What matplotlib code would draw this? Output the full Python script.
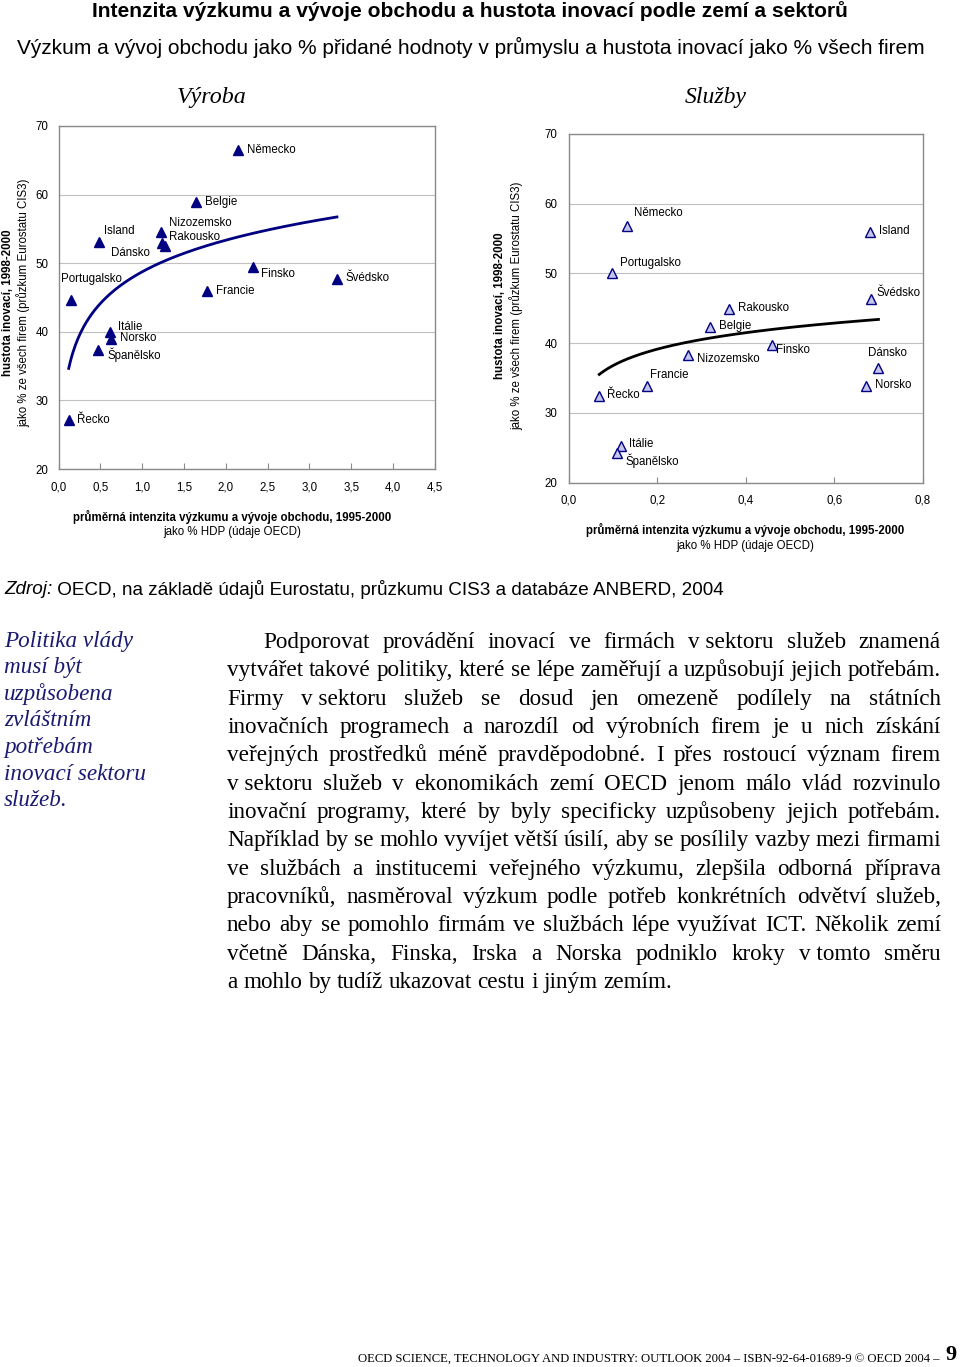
import numpy as np
import matplotlib
matplotlib.use('Agg')
import matplotlib.pyplot as plt
from matplotlib import font_manager as fm

W, H = 960, 1367

# --- Výroba (průmysl) ---
vyr_zeme = ['Německo', 'Belgie', 'Nizozemsko', 'Rakousko', 'Dánsko', 'Island', 'Portugalsko',
            'Itálie', 'Norsko', 'Španělsko', 'Řecko', 'Francie', 'Finsko', 'Švédsko']
vyr_vav = [2.15, 1.64, 1.22, 1.24, 1.27, 0.48, 0.15, 0.61, 0.63, 0.47, 0.12, 1.77, 2.32, 3.33]
vyr_inov = [66.5, 58.9, 54.5, 53.0, 52.5, 53.1, 44.6, 40.0, 38.9, 37.4, 27.2, 46.0, 49.4, 47.7]

# --- Služby ---
sluz_zeme = ['Německo', 'Portugalsko', 'Island', 'Švédsko', 'Rakousko', 'Belgie', 'Finsko',
             'Nizozemsko', 'Dánsko', 'Norsko', 'Francie', 'Řecko', 'Itálie', 'Španělsko']
sluz_vav = [0.131, 0.098, 0.681, 0.684, 0.362, 0.319, 0.460, 0.269, 0.700, 0.671, 0.176, 0.069, 0.118, 0.110]
sluz_inov = [56.8, 50.1, 56.0, 46.4, 44.9, 42.3, 39.8, 38.3, 36.4, 33.8, 33.8, 32.5, 25.2, 24.2]

# label offsets in pixels (dx, dy up, ha)
vyr_off = [(9, 0, 'left'), (9, 0, 'left'), (8, 9, 'left'), (7, 6, 'left'), (-15, -7, 'right'),
           (5, 11, 'left'), (-10, 21, 'left'), (8, 5, 'left'), (9, 1, 'left'), (10, -5, 'left'),
           (8, 0, 'left'), (9, 0, 'left'), (8, -7, 'left'), (9, 1, 'left')]
sluz_off = [(7, 13, 'left'), (8, 10, 'left'), (9, 1, 'left'), (5, 6, 'left'), (9, 1, 'left'),
            (9, 1, 'left'), (4, -5, 'left'), (9, -4, 'left'), (-10, 15, 'left'), (9, 1, 'left'),
            (3, 11, 'left'), (8, 1, 'left'), (8, 2, 'left'), (8, -7, 'left')]

nadpis = 'Intenzita výzkumu a vývoje obchodu a hustota inovací podle zemí a sektorů'
podnadpis = 'Výzkum a vývoj obchodu jako % přidané hodnoty v průmyslu a hustota inovací jako % všech firem'
ylab1 = 'hustota inovací, 1998-2000'
ylab2 = 'jako % ze všech firem (průzkum Eurostatu CIS3)'
xlab1 = 'průměrná intenzita výzkumu a vývoje obchodu, 1995-2000'
xlab2 = 'jako % HDP (údaje OECD)'
zdroj = ' OECD, na základě údajů Eurostatu, průzkumu CIS3 a databáze ANBERD, 2004'

bok = ['Politika vlády', 'musí být', 'uzpůsobena', 'zvláštním', 'potřebám',
       'inovací sektoru', 'služeb.']
odstavec = [
    'Podporovat provádění inovací ve firmách v\u00a0sektoru služeb znamená',
    'vytvářet takové politiky, které se lépe zaměřují a uzpůsobují jejich potřebám.',
    'Firmy v\u00a0sektoru služeb se dosud jen omezeně podílely na státních',
    'inovačních programech a narozdíl od výrobních firem je u nich získání',
    'veřejných prostředků méně pravděpodobné. I přes rostoucí význam firem',
    'v\u00a0sektoru služeb v ekonomikách zemí OECD jenom málo vlád rozvinulo',
    'inovační programy, které by byly specificky uzpůsobeny jejich potřebám.',
    'Například by se mohlo vyvíjet větší úsilí, aby se posílily vazby mezi firmami',
    've službách a institucemi veřejného výzkumu, zlepšila odborná příprava',
    'pracovníků, nasměroval výzkum podle potřeb konkrétních odvětví služeb,',
    'nebo aby se pomohlo firmám ve službách lépe využívat ICT. Několik zemí',
    'včetně Dánska, Finska, Irska a Norska podniklo kroky v\u00a0tomto směru',
    'a mohlo by tudíž ukazovat cestu i jiným zemím.',
]
paticka = 'OECD SCIENCE, TECHNOLOGY AND INDUSTRY: OUTLOOK 2004 – ISBN-92-64-01689-9 © OECD 2004 –'

names = {f.name for f in fm.fontManager.ttflist}
NARROW = 'Liberation Sans Narrow' if 'Liberation Sans Narrow' in names else 'Liberation Sans'
plt.rcParams['font.family'] = ['Liberation Sans', 'DejaVu Sans']

FS = 8.3  # chart text size

fig = plt.figure(figsize=(W / 100, H / 100), dpi=100)
r = fig.canvas.get_renderer()


def P(x, y):
    return x / W, 1 - y / H


def width(t):
    return t.get_window_extent(r).width


def fit(t, target):
    t.set_fontsize(t.get_fontsize() * target / width(t))


def trend(x, y):
    b, a = np.polyfit(np.log(x), y, 1)
    xs = np.linspace(min(x), max(x), 200)
    return xs, a + b * np.log(xs)


NAVY = '#000080'
GRID = '#c0c0c0'
SPINE = '#8a8a8a'


def chart(rect, x, y, zeme, off, xmax, xstep, filled, line_col, xpad, ypad):
    ax = fig.add_axes(rect)
    ax.set_xlim(0, xmax)
    ax.set_ylim(20, 70)
    ticks = np.arange(0, xmax + 1e-9, xstep)
    ax.set_xticks(ticks)
    ax.set_xticklabels([f'{v:.1f}'.replace('.', ',') for v in ticks])
    ax.set_yticks(range(20, 71, 10))
    ax.yaxis.grid(True, color=GRID, lw=0.8)
    ax.set_axisbelow(True)
    for s in ax.spines.values():
        s.set_color(SPINE)
        s.set_linewidth(1.0)
    ax.tick_params(axis='x', direction='in', length=4, color=SPINE, pad=xpad, labelsize=FS)
    ax.tick_params(axis='y', length=0, pad=ypad, labelsize=FS)
    xs, ys = trend(x, y)
    ax.plot(xs, ys, color=line_col, lw=2.0, zorder=2)
    if filled:
        ax.plot(x, y, '^', ms=7.5, color=NAVY, mec=NAVY, ls='none', zorder=3)
    else:
        ax.plot(x, y, '^', ms=7.5, mfc='#c4c4ee', mec=NAVY, mew=1.0, ls='none', zorder=3)
    for xi, yi, z, (dx, dy, ha) in zip(x, y, zeme, off):
        ax.annotate(z, (xi, yi), xytext=(dx, dy), textcoords='offset pixels',
                    ha=ha, va='center', fontsize=FS)
    return ax


chart([58.7 / W, 1 - 469 / H, 376 / W, 343 / H], vyr_vav, vyr_inov, vyr_zeme, vyr_off,
      4.5, 0.5, True, NAVY, 9.0, 7.2)
chart([568.7 / W, 1 - 482.7 / H, 354 / W, 348.7 / H], sluz_vav, sluz_inov, sluz_zeme, sluz_off,
      0.8, 0.2, False, 'black', 8.5, 8.0)

# axis labels
for cx, y1, y2 in [(232, 517, 532), (745, 530, 546)]:
    fig.text(*P(cx, y1), xlab1, ha='center', va='center', fontsize=FS, fontweight='bold')
    fig.text(*P(cx, y2), xlab2, ha='center', va='center', fontsize=FS)
for x1, x2, cy in [(8, 23, 303), (500, 516, 306)]:
    fig.text(*P(x1, cy), ylab1, ha='center', va='center', rotation=90, fontsize=FS, fontweight='bold')
    fig.text(*P(x2, cy), ylab2, ha='center', va='center', rotation=90, fontsize=FS)

# titles
t = fig.text(*P(470, 11), nadpis, ha='center', va='center', family=NARROW, fontweight='bold', fontsize=14)
fit(t, 756)
t = fig.text(*P(471, 47), podnadpis, ha='center', va='center', family=NARROW, fontsize=14)
fit(t, 912)
t = fig.text(*P(212, 97), 'Výroba', ha='center', va='center', family='Liberation Serif', style='italic', fontsize=15)
fit(t, 70)
t = fig.text(*P(716, 97), 'Služby', ha='center', va='center', family='Liberation Serif', style='italic', fontsize=15)
fit(t, 62)

# zdroj
z1 = fig.text(*P(4, 589), 'Zdroj:', ha='left', va='center', family=NARROW, style='italic', fontsize=13)
z2 = fig.text(*P(4, 589), zdroj, ha='left', va='center', family=NARROW, fontsize=13)
k = 722 / (width(z1) + width(z2))
z1.set_fontsize(13 * k)
z2.set_fontsize(13 * k)
z2.set_x((4 + width(z1)) / W)

# side note
t = fig.text(*P(4, 0), bok[5], family='Liberation Serif', style='italic')
fit(t, 142)
fs_bok = t.get_fontsize()
t.remove()
for i, s in enumerate(bok):
    fig.text(*P(4, 647 + 26.5 * i), s, ha='left', va='baseline', family='Liberation Serif',
             style='italic', color='#1a1a70', fontsize=fs_bok)

# justified paragraph
t = fig.text(0, 0, odstavec[1], family='Liberation Serif')
fit(t, 712)
fs = t.get_fontsize()
t.remove()
sp_a = fig.text(0, 0, 'a a', family='Liberation Serif', fontsize=fs)
sp_b = fig.text(0, 0, 'aa', family='Liberation Serif', fontsize=fs)
space = width(sp_a) - width(sp_b)
sp_a.remove()
sp_b.remove()
X0, X1 = 227, 941
for i, line in enumerate(odstavec):
    y = 648 + 28.33 * i
    x0 = 263 if i == 0 else X0
    toks = line.split(' ')
    arts = [fig.text(*P(x0, y), tk, ha='left', va='baseline', family='Liberation Serif', fontsize=fs)
            for tk in toks]
    ws = [width(a) for a in arts]
    last = i == len(odstavec) - 1
    gap = space if last else (X1 - x0 - sum(ws)) / (len(toks) - 1)
    x = x0
    for a, w in zip(arts, ws):
        a.set_x(x / W)
        x += w + gap

# footer
t = fig.text(*P(940, 1359), paticka, ha='right', va='center', family='Liberation Serif', fontsize=9)
fit(t, 582)
fig.text(*P(951, 1355), '9', ha='center', va='center', family='Liberation Serif', fontweight='bold', fontsize=16)

fig.savefig('out.png', dpi=100, facecolor='white')
